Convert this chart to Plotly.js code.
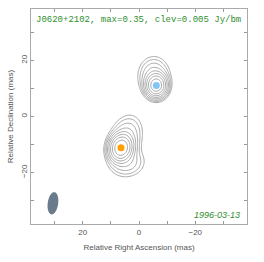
<!DOCTYPE html>
<html><head><meta charset="utf-8">
<script src="https://cdn.plot.ly/plotly-3.0.1.min.js"></script>
<style>html,body{margin:0;padding:0;background:#fff;}#chart{width:264px;height:262px;}</style>
</head><body><div id="chart"></div>
<script>
// ---- data ----
const sourceName = "J0620+2102";
const mapMax = 0.35;          // Jy/beam
const clev = 0.005;           // lowest contour, Jy/beam
const levelStep = 0.75;       // contours spaced by 2^0.75
const epoch = "1996-03-13";

// model components (mas, Jy/beam, mas, mas, deg)
const compX    = [-6.15, -5.3,  6.4,  4.8,  4.2];
const compY    = [11.1,  14.6, -11.2, -7.8, -16.6];
const compPeak = [0.30,  0.03,  0.32, 0.03, 0.02];
const compSmaj = [2.1,   3.6,   2.4,  4.5,  2.9];
const compSmin = [1.85,  3.0,   2.0,  3.0,  3.6];
const compPA   = [0,     0,    -15,  -18,   10];

// fitted component markers
const markX = [-6.15, 6.4];
const markY = [11.1, -11.2];
const markColor = ["#82c6f6", "#ffa000"];

// restoring beam (FWHM mas, deg) and its position
const beamMaj = 8.0, beamMin = 3.7, beamPA = -8;
const beamX = 30.6, beamY = -31.0;

const tickVals = [-30, -20, -10, 0, 10, 20, 30];
const tickText = ["", "\u221220", "", "0", "", "20", ""];
const axisRange = 38.4;

// ---- build map grid from components ----
const gx = [], gy = [];
for (let v = 40; v >= -40; v -= 0.4) gx.push(+v.toFixed(2));
for (let v = -40; v <= 40; v += 0.4) gy.push(+v.toFixed(2));
const z = gy.map(y => gx.map(x => {
  let s = 0;
  for (let i = 0; i < compX.length; i++) {
    const p = compPA[i] * Math.PI / 180;
    const dx = x - compX[i], dy = y - compY[i];
    const a = dx * Math.sin(p) + dy * Math.cos(p);
    const b = dx * Math.cos(p) - dy * Math.sin(p);
    s += compPeak[i] * Math.exp(-0.5 * (a * a / (compSmaj[i] ** 2) + b * b / (compSmin[i] ** 2)));
  }
  return Math.log2(Math.max(s, 1e-9) / clev) / levelStep;
}));

// beam path in data coordinates
const bp = beamPA * Math.PI / 180;
let path = "";
for (let k = 0; k <= 60; k++) {
  const t = 2 * Math.PI * k / 60;
  const a = beamMaj / 2 * Math.cos(t), b = beamMin / 2 * Math.sin(t);
  const x = beamX + a * Math.sin(bp) + b * Math.cos(bp);
  const y = beamY + a * Math.cos(bp) - b * Math.sin(bp);
  path += (k === 0 ? "M" : "L") + x.toFixed(3) + "," + y.toFixed(3);
}
path += "Z";

const traces = [
  {type: "contour", x: gx, y: gy, z: z, showscale: false, hoverinfo: "skip",
   contours: {start: 0, end: 20, size: 1, coloring: "none"},
   line: {color: "#939393", width: 0.8}},
  {type: "scatter", mode: "markers", x: markX, y: markY,
   marker: {color: markColor, size: 7}, hoverinfo: "skip"}
];

const axCommon = {
  tickvals: tickVals, ticktext: tickText, ticks: "inside", ticklen: 3,
  tickcolor: "#999", tickwidth: 1, showline: true, linecolor: "#aaa", linewidth: 1,
  mirror: "allticks", showgrid: false, zeroline: false,
  tickfont: {family: "Liberation Sans, Arial, sans-serif", size: 8, color: "#555"},
  range: [-axisRange, axisRange]
};
const layout = {
  width: 264, height: 262,
  margin: {l: 31, r: 17, t: 9, b: 38},
  paper_bgcolor: "#fff", plot_bgcolor: "#fff", showlegend: false,
  xaxis: Object.assign({}, axCommon, {
    range: [axisRange, -axisRange],
    title: {text: "Relative Right Ascension (mas)", standoff: 8,
            font: {family: "Liberation Sans, Arial, sans-serif", size: 8, color: "#555"}}
  }),
  yaxis: Object.assign({}, axCommon, {
    tickangle: -90,
    title: {text: "Relative Declination (mas)", standoff: 4,
            font: {family: "Liberation Sans, Arial, sans-serif", size: 8, color: "#555"}}
  }),
  shapes: [{type: "path", path: path, xref: "x", yref: "y",
            fillcolor: "#6a7b8c", line: {width: 0}}],
  annotations: [
    {text: sourceName + ", max=" + mapMax + ", clev=" + clev + " Jy/bm",
     xref: "paper", yref: "paper", x: 0.498, y: 0.949, xanchor: "center", yanchor: "middle",
     showarrow: false, font: {family: "Liberation Mono, Courier New, monospace", size: 9, color: "#2f8f2f"}},
    {text: "<i>" + epoch + "</i>",
     xref: "paper", yref: "paper", x: 0.978, y: 0.042, xanchor: "right", yanchor: "middle",
     showarrow: false, font: {family: "Liberation Sans, Arial, sans-serif", size: 9, color: "#2f8f2f"}}
  ]
};
Plotly.newPlot("chart", traces, layout, {staticPlot: true, displayModeBar: false});
</script></body></html>
